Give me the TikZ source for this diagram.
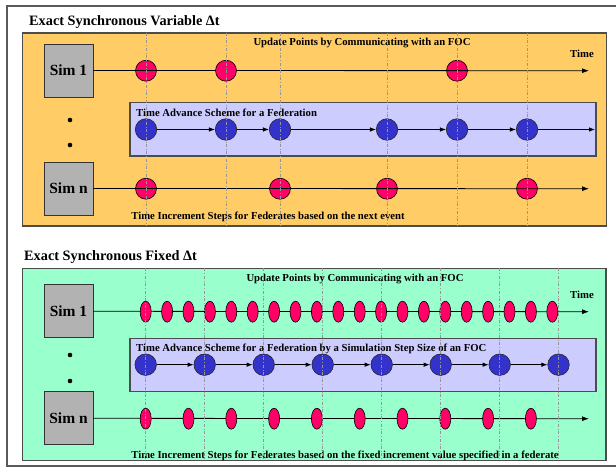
\documentclass[tikz,border=0pt]{standalone}
\usepackage{fontspec}
\setmainfont{Liberation Serif}
\usetikzlibrary{shapes.geometric,arrows.meta}
\definecolor{panelorange}{RGB}{255,204,102}
\definecolor{panelgreen}{RGB}{153,255,204}
\definecolor{schemeblue}{RGB}{204,204,255}
\definecolor{eventred}{RGB}{255,0,102}
\definecolor{fedblue}{RGB}{51,51,204}
\definecolor{simgray}{RGB}{178,178,178}
\definecolor{guidegray}{RGB}{150,150,150}

\begin{document}
\begin{tikzpicture}[x=1pt, y=-1pt,
  panel/.style={draw=black!70, line width=1.2pt},
  simbox/.style={draw=black!80, fill=simgray, line width=0.8pt, minimum width=49pt, minimum height=53pt, inner sep=0pt, font=\fontsize{15.5}{18}\selectfont\bfseries},
  event/.style={circle, draw=black, fill=eventred, line width=0.6pt, minimum size=21pt, inner sep=0pt},
  stepmark/.style={ellipse, draw=black, fill=eventred, line width=0.6pt, minimum width=11pt, minimum height=21pt, inner sep=0pt},
  fed/.style={circle, draw=black!85, fill=fedblue, line width=0.6pt, minimum size=21.5pt, inner sep=0pt},
  timeline/.style={line width=0.8pt, -{Latex[length=7pt,width=5pt]}},
  advance/.style={line width=0.8pt, -{Latex[length=6pt,width=4.5pt]}},
  guide/.style={guidegray, dash dot, line width=0.5pt},
  note/.style={font=\fontsize{10.7}{12}\selectfont\bfseries, inner sep=0pt},
  heading/.style={font=\fontsize{14.3}{16}\selectfont\bfseries, inner sep=0pt, anchor=west}]
\useasboundingbox (0,0) rectangle (616,468);
\draw[black!65, line width=1.2pt] (7,6) rectangle (630,466);

\node[heading] (titlea) at (29,22) {Exact Synchronous Variable Δt};
\filldraw[panel, fill=panelorange] (22.7,33) rectangle (606.7,226);
\filldraw[panel, fill=schemeblue] (130,102.7) rectangle (596,156);
\node[note] (updatea) at (362,43) {Update Points by Communicating with an FOC};
\node[note] (timea) at (582,54) {Time};
\node[note, anchor=west] (schemea) at (136,113) {Time Advance Scheme for a Federation};
\node[note] (incra) at (268,217) {Time Increment Steps for Federates based on the next event};

\node[simbox] (sima) at (68.5,70.5) {Sim 1};
\node[simbox] (simna) at (68.5,188.5) {Sim n};
\fill (70,120) circle (2.3);
\fill (70,145) circle (2.3);

\coordinate (enda) at (589,70.7);
\coordinate (endna) at (589,188.7);
\coordinate (edgea) at (595,129.5);
\node[event] (ua1) at (146,70.7) {};
\node[event] (ua3) at (457,70.7) {};
\draw[timeline] (sima.east) -- (enda);
\node[event] (ua2) at (226,70.7) {};
\node[event] (na1) at (146,188.7) {};
\node[event] (na2) at (280,188.7) {};
\node[event] (na3) at (387,188.7) {};
\node[event] (na4) at (527,188.7) {};
\draw[timeline] (simna.east) -- (endna);

\node[fed] (fa1) at (146,129.5) {};
\node[fed] (fa2) at (226,129.5) {};
\node[fed] (fa3) at (280,129.5) {};
\node[fed] (fa4) at (387,129.5) {};
\node[fed] (fa5) at (457,129.5) {};
\node[fed] (fa6) at (527,129.5) {};
\draw[advance] (fa1) -- (fa2);
\draw[advance] (fa2) -- (fa3);
\draw[advance] (fa3) -- (fa4);
\draw[advance] (fa4) -- (fa5);
\draw[advance] (fa5) -- (fa6);
\draw[advance] (fa6) -- (edgea);

\draw[guide] (146,33) -- (146,226);
\draw[guide] (226,33) -- (226,226);
\draw[guide] (280,33) -- (280,226);
\draw[guide] (387,33) -- (387,226);
\draw[guide] (457,33) -- (457,226);
\draw[guide] (527,33) -- (527,226);

\node[heading] (titleb) at (24,257) {Exact Synchronous Fixed Δt};
\filldraw[panel, fill=panelgreen] (22.7,268.3) rectangle (606,460.7);
\filldraw[panel, fill=schemeblue] (130,338.3) rectangle (596,391.7);
\node[note] (updateb) at (355,278.5) {Update Points by Communicating with an FOC};
\node[note] (timeb) at (582,294.5) {Time};
\node[note, anchor=west] (schemeb) at (136,348.5) {Time Advance Scheme for a Federation by a Simulation Step Size of an FOC};
\node[note] (incrb) at (345,456) {Time Increment Steps for Federates based on the fixed increment value specified in a federate};

\node[simbox] (simb) at (68.5,311.3) {Sim 1};
\node[simbox] (simnb) at (68.5,418.3) {Sim n};
\fill (70,355) circle (2.3);
\fill (70,381) circle (2.3);

\coordinate (endb) at (589,311.7);
\coordinate (endnb) at (589,418.7);
\draw[timeline] (simb.east) -- (endb);
\draw[timeline] (simnb.east) -- (endnb);
\node[stepmark] (ub1) at (145.7,311.7) {};
\node[stepmark] (ub2) at (167.1,311.7) {};
\node[stepmark] (ub3) at (188.5,311.7) {};
\node[stepmark] (ub4) at (209.9,311.7) {};
\node[stepmark] (ub5) at (231.3,311.7) {};
\node[stepmark] (ub6) at (252.7,311.7) {};
\node[stepmark] (ub7) at (274.1,311.7) {};
\node[stepmark] (ub8) at (295.5,311.7) {};
\node[stepmark] (ub9) at (316.9,311.7) {};
\node[stepmark] (ub10) at (338.3,311.7) {};
\node[stepmark] (ub11) at (359.7,311.7) {};
\node[stepmark] (ub12) at (381.1,311.7) {};
\node[stepmark] (ub13) at (402.5,311.7) {};
\node[stepmark] (ub14) at (423.9,311.7) {};
\node[stepmark] (ub15) at (445.3,311.7) {};
\node[stepmark] (ub16) at (466.7,311.7) {};
\node[stepmark] (ub17) at (488.1,311.7) {};
\node[stepmark] (ub18) at (509.5,311.7) {};
\node[stepmark] (ub19) at (530.9,311.7) {};
\node[stepmark] (ub20) at (552.3,311.7) {};
\node[stepmark] (nb1) at (145.7,418.7) {};
\node[stepmark] (nb2) at (188.5,418.7) {};
\node[stepmark] (nb3) at (231.3,418.7) {};
\node[stepmark] (nb4) at (274.1,418.7) {};
\node[stepmark] (nb5) at (316.9,418.7) {};
\node[stepmark] (nb6) at (359.7,418.7) {};
\node[stepmark] (nb7) at (402.5,418.7) {};
\node[stepmark] (nb8) at (445.3,418.7) {};
\node[stepmark] (nb9) at (488.1,418.7) {};
\node[stepmark] (nb10) at (530.9,418.7) {};

\node[fed] (fb1) at (145.7,364.7) {};
\node[fed] (fb2) at (204.7,364.7) {};
\node[fed] (fb3) at (263.7,364.7) {};
\node[fed] (fb4) at (322.7,364.7) {};
\node[fed] (fb5) at (381.7,364.7) {};
\node[fed] (fb6) at (440.7,364.7) {};
\node[fed] (fb7) at (499.7,364.7) {};
\node[fed] (fb8) at (558.5,364.7) {};
\draw[advance] (fb1) -- (fb2);
\draw[advance] (fb2) -- (fb3);
\draw[advance] (fb3) -- (fb4);
\draw[advance] (fb4) -- (fb5);
\draw[advance] (fb5) -- (fb6);
\draw[advance] (fb6) -- (fb7);
\draw[advance] (fb7) -- (fb8);

\draw[guide] (145.7,268.3) -- (145.7,460.7);
\draw[guide] (204.7,268.3) -- (204.7,460.7);
\draw[guide] (263.7,268.3) -- (263.7,460.7);
\draw[guide] (322.7,268.3) -- (322.7,460.7);
\draw[guide] (381.7,268.3) -- (381.7,460.7);
\draw[guide] (440.7,268.3) -- (440.7,460.7);
\draw[guide] (499.7,268.3) -- (499.7,460.7);
\draw[guide] (558.5,268.3) -- (558.5,460.7);
\end{tikzpicture}
\end{document}
